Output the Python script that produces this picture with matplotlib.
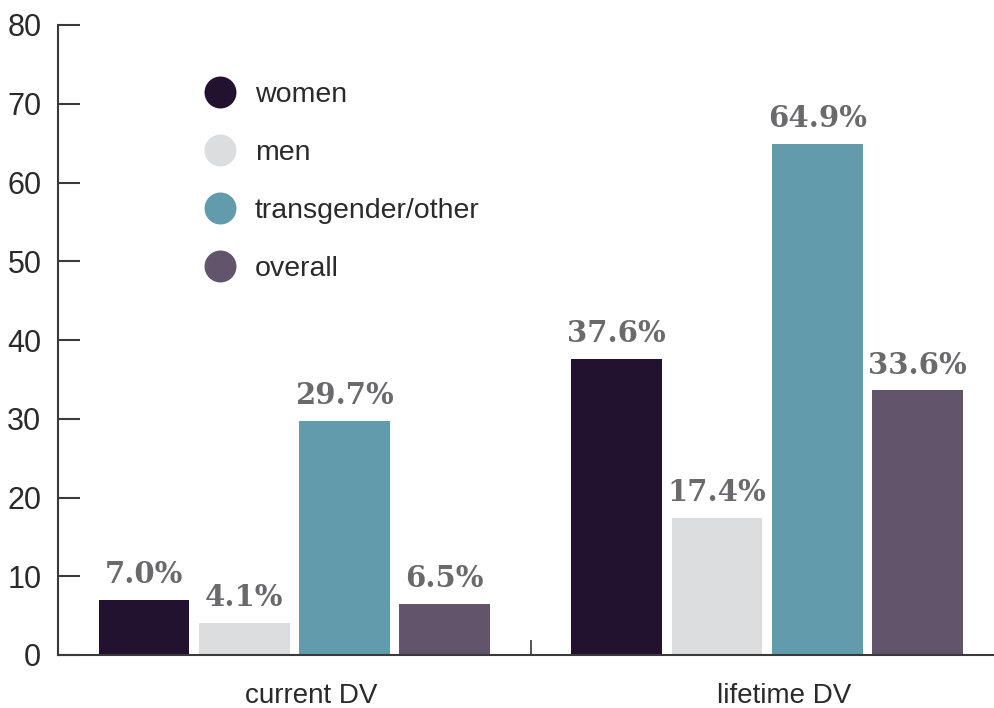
import matplotlib
matplotlib.use("Agg")
import matplotlib.pyplot as plt
import matplotlib.transforms as mtransforms
from matplotlib.lines import Line2D
import numpy as np

# data
groups = ["current DV", "lifetime DV"]
series = ["women", "men", "transgender/other", "overall"]
women = [7.0, 37.6]
men = [4.1, 17.4]
trans = [29.7, 64.9]
overall = [6.5, 33.6]
colors = ["#22112f", "#dcdddf", "#629bac", "#62546b"]

values = [women, men, trans, overall]

fig = plt.figure(figsize=(9.95, 7.08), dpi=100)
ax = fig.add_axes([58 / 995, 53 / 708, 937 / 995, 630 / 708])

x = np.arange(len(groups))
step = 0.212
width = 0.192
label_color = "#6a6a6d"
text_font = ["Liberation Sans", "DejaVu Sans"]

for i, (vals, col) in enumerate(zip(values, colors)):
    pos = x + (i - 1.5) * step
    bars = ax.bar(pos, vals, width=width, color=col, zorder=2)
    for rect, v in zip(bars, vals):
        ax.annotate(f"{v:.1f}%", (rect.get_x() + rect.get_width() / 2, v),
                    xytext=(0, 12), textcoords="offset points",
                    ha="center", va="baseline", fontsize=21,
                    fontweight="heavy", family="DejaVu Serif",
                    color=label_color)

ax.set_xlim(-0.5, 1.482)
ax.set_ylim(0, 80)
ax.set_yticks(np.arange(0, 81, 10))

for s in ["top", "right"]:
    ax.spines[s].set_visible(False)
for s in ["left", "bottom"]:
    ax.spines[s].set_color("#3a3a3a")
    ax.spines[s].set_linewidth(1.5)

ax.tick_params(axis="y", direction="in", length=16, width=1.5,
               color="#3a3a3a", pad=12, labelsize=22, labelcolor="#2a2a2a")
for lab in ax.get_yticklabels():
    lab.set_family(text_font)

ax.set_xticks(x)
ax.set_xticklabels(groups, family=text_font, fontsize=20, color="#2a2a2a")
ax.tick_params(axis="x", which="major", length=0, pad=20)
ax.set_xticks([0.5], minor=True)
ax.tick_params(axis="x", which="minor", direction="in", length=11,
               width=1.2, color="#3a3a3a")
offset = mtransforms.ScaledTranslation(17 / 100, 0, fig.dpi_scale_trans)
for lab in ax.get_xticklabels():
    lab.set_transform(lab.get_transform() + offset)

handles = [Line2D([], [], marker="o", linestyle="none", markersize=23,
                  markerfacecolor=c, markeredgecolor="none") for c in colors]
leg = ax.legend(handles, series, loc="upper left",
                bbox_to_anchor=(203 / 995, 1 - 82 / 708),
                bbox_transform=fig.transFigure, frameon=False,
                prop={"family": text_font, "size": 20.5},
                labelspacing=1.12, handletextpad=0.62, borderpad=0,
                borderaxespad=0, handlelength=1.2)
for t in leg.get_texts():
    t.set_color("#2a2a2a")

fig.savefig("out.png", dpi=100, facecolor="white")
